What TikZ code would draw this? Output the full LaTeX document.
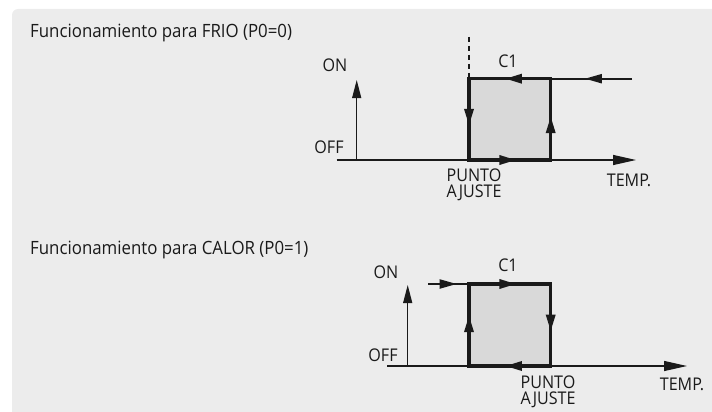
\documentclass[tikz,border=0pt]{standalone}
\usepackage{fontspec}
\setmainfont{Open Sans}[FakeStretch=0.92]
\usetikzlibrary{positioning}
\usetikzlibrary{arrows.meta,decorations.markings}

\definecolor{ink}{HTML}{1A1A1A}
\definecolor{bgray}{HTML}{ECECEC}
\definecolor{boxgray}{HTML}{D9D9D9}

\tikzset{
  title/.style={font=\fontsize{18.3}{20}\selectfont,text=ink,inner sep=0pt,anchor=west},
  lbl/.style={font=\fontsize{17.5}{16}\selectfont,text=ink,inner sep=0pt,align=center},
  axis/.style={draw=ink,line width=1.2pt,-{Triangle[length=18pt,width=9pt]}},
  taxis/.style={axis,-{Triangle[length=23pt,width=10pt]}},
  edge/.style={draw=ink,line width=3.2pt,line cap=rect},
  feed/.style={draw=ink,line width=2pt},
  midarrow/.style={postaction={decorate},
    decoration={markings,mark=at position #1 with {\arrow{Triangle[length=17pt,width=9pt]}}}},
  midarrow/.default=0.58
}

\begin{document}
\begin{tikzpicture}[x=1pt,y=-1pt]
\useasboundingbox (0,0) rectangle (712,412);
\begin{scope}
  \clip (0,0) rectangle (712,412);
  \fill[bgray,rounded corners=6pt] (12,9) rectangle (740,440);
\end{scope}

% FRIO
\node[title] (frio) at (30,33) {Funcionamiento para FRIO (P0=0)};
\coordinate (o1) at (336.7,160);
\coordinate (x1) at (636,160);
\coordinate (v1) at (356.7,160);
\coordinate (y1) at (356.7,80);
\coordinate (a1) at (469,78.7);
\coordinate (b1) at (550.7,78.7);
\coordinate (c1) at (550.7,160);
\coordinate (d1) at (469,160);
\coordinate (in1) at (632,78.7);
\coordinate (dash1) at (469,37);
\fill[boxgray] (a1) rectangle (c1);
\draw[taxis] (o1) -- (x1);
\draw[axis] (v1) -- (y1);
\draw[edge,midarrow=0.56] (b1) -- (a1);
\draw[edge,midarrow] (a1) -- (d1);
\draw[edge,midarrow] (d1) -- (c1);
\draw[edge,midarrow=0.54] (c1) -- (b1);
\draw[feed,midarrow] (in1) -- (b1);
\draw[ink,line width=1.6pt,dash pattern=on 5pt off 4pt] (dash1) -- (a1);
\node[lbl] (on1) at (335,65) {ON};
\node[lbl] (off1) at (329,147) {OFF};
\node[lbl] (cone1) at (508,61) {C1};
\node[lbl] (punto1) at (474,185) {PUNTO\\AJUSTE};
\node[lbl] (temp1) at (629,180) {TEMP.};

% CALOR
\node[title] (calor) at (30,250) {Funcionamiento para CALOR (P0=1)};
\coordinate (o2) at (387,366);
\coordinate (x2) at (687,366);
\coordinate (v2) at (407.7,366);
\coordinate (y2) at (407.7,285);
\coordinate (a2) at (469,284);
\coordinate (b2) at (550.7,284);
\coordinate (c2) at (550.7,366);
\coordinate (d2) at (469,366);
\coordinate (in2) at (428,284);
\fill[boxgray] (a2) rectangle (c2);
\draw[taxis] (o2) -- (x2);
\draw[axis] (v2) -- (y2);
\draw[edge,midarrow] (a2) -- (b2);
\draw[edge,midarrow] (b2) -- (c2);
\draw[edge,midarrow=0.56] (c2) -- (d2);
\draw[edge,midarrow=0.62] (d2) -- (a2);
\draw[feed,midarrow=0.7] (in2) -- (a2);
\node[lbl] (on2) at (386,272) {ON};
\node[lbl] (off2) at (383,355) {OFF};
\node[lbl] (cone2) at (508,265) {C1};
\node[lbl] (punto2) at (548,392) {PUNTO\\AJUSTE};
\node[lbl] (temp2) at (682,384) {TEMP.};
\end{tikzpicture}
\end{document}
